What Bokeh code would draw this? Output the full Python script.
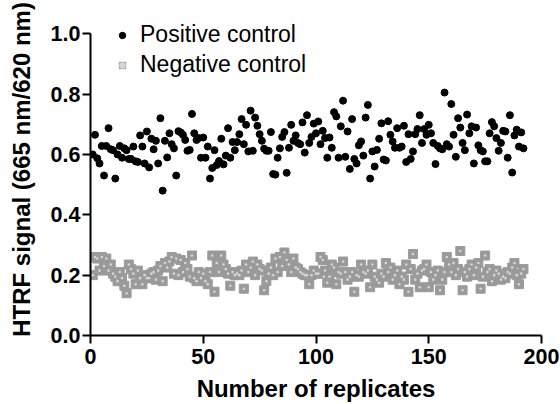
from bokeh.plotting import figure
from bokeh.models import (ColumnDataSource, Range1d, FixedTicker, NumeralTickFormatter,
                          Legend, LegendItem)
from bokeh.embed import file_html
from bokeh.resources import INLINE

# ---------------- data ----------------
replicates = list(range(1, 193))

positive_control = [
    0.600, 0.665, 0.587, 0.570, 0.628, 0.530, 0.628, 0.687, 0.617, 0.614,
    0.520, 0.600, 0.628, 0.589, 0.620, 0.614, 0.585, 0.585, 0.626, 0.577,
    0.575, 0.663, 0.626, 0.570, 0.676, 0.557, 0.652, 0.617, 0.645, 0.570,
    0.720, 0.480, 0.645, 0.590, 0.670, 0.634, 0.620, 0.530, 0.677, 0.673,
    0.665, 0.648, 0.612, 0.615, 0.734, 0.670, 0.648, 0.654, 0.589, 0.656,
    0.589, 0.626, 0.520, 0.555, 0.614, 0.565, 0.578, 0.652, 0.567, 0.596,
    0.687, 0.589, 0.641, 0.614,
    0.641, 0.667, 0.717, 0.634, 0.698, 0.610, 0.745, 0.612, 0.722, 0.695,
    0.667, 0.645, 0.619, 0.612, 0.612, 0.674, 0.535, 0.533, 0.589, 0.620,
    0.658, 0.674, 0.539, 0.622, 0.698, 0.645, 0.663, 0.638, 0.634, 0.706,
    0.606, 0.730, 0.638, 0.658, 0.702, 0.670, 0.709, 0.634, 0.678, 0.654,
    0.589, 0.656, 0.622, 0.740, 0.726, 0.589, 0.693, 0.778, 0.592, 0.676,
    0.552, 0.717, 0.585, 0.570, 0.630, 0.643, 0.596, 0.722, 0.764, 0.520,
    0.610, 0.560,
    0.615, 0.652, 0.703, 0.583, 0.580, 0.710, 0.665, 0.643, 0.622, 0.687,
    0.622, 0.626, 0.695, 0.575, 0.667, 0.585, 0.610, 0.667, 0.684, 0.730,
    0.638, 0.684, 0.665, 0.698, 0.670, 0.638, 0.568, 0.628, 0.620, 0.617,
    0.805, 0.634, 0.626, 0.767, 0.665, 0.592, 0.720, 0.689, 0.638, 0.614,
    0.732, 0.670, 0.693, 0.570, 0.689, 0.630, 0.614, 0.610, 0.577, 0.577,
    0.670, 0.707, 0.693, 0.654, 0.612, 0.638, 0.678, 0.676, 0.589, 0.730,
    0.540, 0.663, 0.682, 0.626, 0.673, 0.620,
]

negative_control = [
    0.200, 0.260, 0.255, 0.215, 0.260, 0.230, 0.255, 0.215, 0.235, 0.205,
    0.195, 0.180, 0.210, 0.190, 0.165, 0.140, 0.235, 0.220, 0.205, 0.170,
    0.215, 0.190, 0.170, 0.200, 0.190, 0.190, 0.205, 0.210, 0.185, 0.215,
    0.230, 0.180, 0.240, 0.225, 0.245, 0.260, 0.205, 0.255, 0.200, 0.250,
    0.210, 0.240, 0.220, 0.195, 0.265, 0.190, 0.180, 0.210, 0.190, 0.205,
    0.180, 0.170, 0.210, 0.265, 0.145, 0.240, 0.210, 0.265, 0.235, 0.220,
    0.205, 0.165, 0.210, 0.200,
    0.205, 0.200, 0.215, 0.155, 0.235, 0.210, 0.225, 0.245, 0.200, 0.235,
    0.220, 0.215, 0.150, 0.180, 0.205, 0.225, 0.200, 0.255, 0.210, 0.260,
    0.230, 0.275, 0.250, 0.235, 0.210, 0.255, 0.225, 0.220, 0.210, 0.205,
    0.200, 0.200, 0.170, 0.200, 0.215, 0.205, 0.205, 0.260, 0.250, 0.215,
    0.175, 0.195, 0.235, 0.225, 0.170, 0.210, 0.205, 0.245, 0.210, 0.185,
    0.195, 0.210, 0.145, 0.200, 0.195, 0.235, 0.210, 0.205, 0.215, 0.160,
    0.235, 0.195,
    0.185, 0.175, 0.205, 0.195, 0.240, 0.210, 0.225, 0.185, 0.200, 0.215,
    0.170, 0.195, 0.185, 0.235, 0.145, 0.220, 0.270, 0.185, 0.205, 0.160,
    0.215, 0.220, 0.235, 0.160, 0.210, 0.185, 0.200, 0.215, 0.150, 0.185,
    0.210, 0.260, 0.235, 0.210, 0.240, 0.200, 0.220, 0.280, 0.150, 0.210,
    0.195, 0.220, 0.235, 0.200, 0.225, 0.240, 0.155, 0.195, 0.265, 0.210,
    0.220, 0.180, 0.200, 0.215, 0.205, 0.185, 0.195, 0.190, 0.210, 0.205,
    0.225, 0.240, 0.200, 0.170, 0.205, 0.220,
]

x_ticks = [0, 50, 100, 150, 200]
y_ticks = [0.0, 0.2, 0.4, 0.6, 0.8, 1.0]
series_names = ["Positive control", "Negative control"]
x_title = "Number of replicates"
y_title = "HTRF signal (665 nm/620 nm)"

# ---------------- figure ----------------
FONT = "Liberation Sans"

# the frame reaches above 1.0 so the legend (which sits above the axis top) is not clipped;
# the y axis itself is bounded to 0..1
p = figure(width=560, height=404, output_backend="svg", toolbar_location=None,
           x_range=Range1d(0, 200), y_range=Range1d(0, 1.1),
           min_border_left=90, min_border_right=19,
           min_border_top=3, min_border_bottom=67)
p.outline_line_color = None
p.grid.visible = False
p.background_fill_color = "white"
p.border_fill_color = "white"

src = ColumnDataSource(dict(x=replicates, pos=positive_control, neg=negative_control))

neg_sq = p.scatter("x", "neg", source=src, marker="square", size=9,
                   fill_color="#9a9a9a", line_color="#9a9a9a", line_width=1,
                   line_join="round")
neg_dot = p.scatter("x", "neg", source=src, marker="circle", size=2.6,
                    fill_color="#d6d6d6", line_color=None)
pos_r = p.scatter("x", "pos", source=src, marker="circle", size=7,
                  fill_color="black", line_color="black")

for ax in (p.xaxis[0], p.yaxis[0]):
    ax.axis_line_width = 2
    ax.axis_line_color = "black"
    ax.major_tick_line_width = 2
    ax.major_tick_line_color = "black"
    ax.major_tick_out = 8
    ax.major_tick_in = 0
    ax.minor_tick_out = 0
    ax.minor_tick_in = 0
    ax.major_label_text_font = FONT
    ax.major_label_text_font_style = "bold"
    ax.major_label_text_font_size = "21.5px"
    ax.major_label_text_color = "black"
    ax.axis_label_text_font = FONT
    ax.axis_label_text_font_style = "bold"
    ax.axis_label_text_font_size = "24px"
    ax.axis_label_text_color = "black"

p.xaxis[0].ticker = FixedTicker(ticks=x_ticks)
p.yaxis[0].ticker = FixedTicker(ticks=y_ticks)
p.yaxis[0].bounds = (0, 1.0)
p.yaxis[0].formatter = NumeralTickFormatter(format="0.0")
p.xaxis[0].axis_label = x_title
p.yaxis[0].axis_label = y_title
p.xaxis[0].major_label_standoff = 5
p.xaxis[0].axis_label_standoff = 8
p.yaxis[0].major_label_standoff = 2
p.yaxis[0].axis_label_standoff = 13

legend = Legend(items=[LegendItem(label=series_names[0], renderers=[pos_r]),
                       LegendItem(label=series_names[1], renderers=[neg_sq, neg_dot])],
                location=(24, 257), orientation="vertical",
                border_line_color=None, background_fill_alpha=0,
                padding=0, margin=0, spacing=3,
                glyph_width=16, glyph_height=26, label_height=26,
                label_standoff=10,
                label_text_font=FONT, label_text_font_size="23px",
                label_text_color="black")
p.add_layout(legend, "center")

open("out.html", "w").write(file_html(p, INLINE))
